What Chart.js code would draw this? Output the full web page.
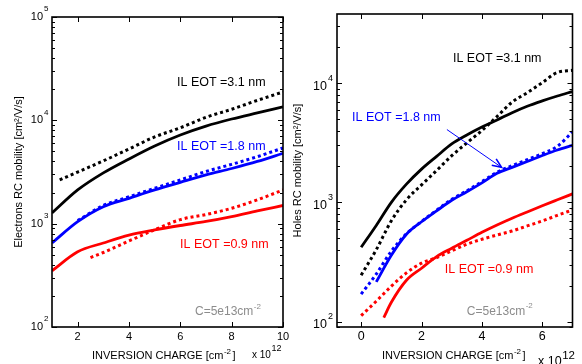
<!DOCTYPE html>
<html>
<head>
<meta charset="utf-8">
<script src="https://cdn.jsdelivr.net/npm/chart.js@4/dist/chart.umd.min.js"></script>
<style>
  html, body { margin: 0; padding: 0; background: #fff; }
  #wrap { position: relative; width: 582px; height: 364px; overflow: hidden; }
  canvas { position: absolute; top: 0; }
</style>
</head>
<body>
<div id="wrap">
  <canvas id="elec" width="291" height="364" style="left:0"></canvas>
  <canvas id="hole" width="291" height="364" style="left:291px"></canvas>
</div>
<script>
// inversion charge in units of 1e12 cm^-2, mobility in cm2/V/s

// electrons (left panel)
const elecX = [1, 2, 3, 4, 5, 6, 7, 8, 9, 10];
const elecBlack = [1270, 2120, 3100, 4230, 5650, 7220, 8800, 10300, 11800, 13500];
const elecBlue = [650, 1045, 1460, 1760, 2120, 2510, 2960, 3420, 4000, 4790];
const elecRed = [350, 535, 650, 775, 870, 960, 1050, 1170, 1330, 1500];
const elecBlackDotX = [1.3, 2, 3, 4, 5, 6, 7, 8, 9, 10];
const elecBlackDot = [2650, 3160, 4050, 5280, 6910, 8470, 10700, 12800, 15600, 18800];
const elecBlueDotX = [2, 3, 4, 5, 6, 7, 8, 9, 10];
const elecBlueDot = [1070, 1500, 1820, 2200, 2650, 3200, 3750, 4450, 5400];
const elecRedDotX = [2.5, 3, 4, 5, 6, 7, 8, 9, 10];
const elecRedDot = [470, 526, 680, 873, 1095, 1225, 1410, 1700, 2120];

// holes (right panel)
const holeX = [0, 0.5, 1, 1.5, 2, 2.5, 3, 3.5, 4, 4.5, 5, 5.5, 6, 6.5, 7];
const holeBlack = [420, 640, 1000, 1420, 1900, 2430, 3090, 3670, 4280, 4900, 5650, 6400, 7100, 7800, 8500];
const holeBlackDot = [245, 400, 700, 1050, 1400, 1850, 2460, 3150, 4010, 5250, 6930, 8300, 10100, 12300, 12800];
const holeBlue = [null, 215, 360, 540, 687, 849, 1040, 1225, 1456, 1750, 1965, 2200, 2470, 2750, 3000];
const holeBlueDot = [170, 250, 390, 545, 690, 860, 1060, 1250, 1490, 1790, 2030, 2280, 2560, 2950, 3900];
const holeRedX = [0.75, 1, 1.5, 2, 2.5, 3, 3.5, 4, 4.5, 5, 5.5, 6, 6.5, 7];
const holeRed = [108, 145, 222, 280, 350, 412, 480, 560, 645, 735, 830, 935, 1050, 1178];
const holeRedDot = [112, 148, 198, 256, 309, 344, 391, 445, 490, 532, 575, 634, 698, 778, 863];

const elecXTicks = [2, 4, 6, 8, 10];
const holeXTicks = [0, 2, 4, 6];

const FONT = '"Liberation Sans", Arial, sans-serif';
const BLACK = '#000000', BLUE = '#0000ff', RED = '#ff0000', GREY = '#8c8c8c';

function series(xs, ys, color, dotted) {
  const pts = [];
  xs.forEach((x, i) => { if (ys[i] != null) pts.push({ x: x, y: ys[i] }); });
  return {
    data: pts,
    borderColor: color,
    borderWidth: dotted ? 3 : 2.8,
    borderDash: dotted ? [3, 3] : [],
    borderCapStyle: 'butt',
    pointRadius: 0,
    cubicInterpolationMode: 'monotone',
    fill: false
  };
}

function supText(ctx, base, sup, x, y, size, supSize, rise, align) {
  ctx.font = size + 'px ' + FONT;
  const wb = ctx.measureText(base).width;
  ctx.font = supSize + 'px ' + FONT;
  const ws = ctx.measureText(sup).width;
  let x0 = x;
  if (align === 'center') x0 = x - (wb + ws) / 2;
  if (align === 'right') x0 = x - (wb + ws);
  ctx.textAlign = 'left';
  ctx.textBaseline = 'middle';
  ctx.font = size + 'px ' + FONT;
  ctx.fillText(base, x0, y);
  ctx.font = supSize + 'px ' + FONT;
  ctx.fillText(sup, x0 + wb + 0.5, y - rise);
}

function decorate(chart, d) {
  const ctx = chart.ctx;
  const a = chart.chartArea;
  const xs = chart.scales.x, ys = chart.scales.y;
  ctx.save();
  ctx.fillStyle = BLACK;
  ctx.strokeStyle = BLACK;

  // minor + major ticks on log axis (both sides, inward)
  ctx.lineWidth = 1;
  for (let e = 1; e <= 5; e++) {
    for (let m = 1; m <= 9; m++) {
      const v = m * Math.pow(10, e);
      if (v < ys.min || v > ys.max) continue;
      const py = Math.round(ys.getPixelForValue(v)) + 0.5;
      const len = m === 1 ? 5 : 3;
      ctx.beginPath();
      ctx.moveTo(a.left, py); ctx.lineTo(a.left + len, py);
      ctx.moveTo(a.right, py); ctx.lineTo(a.right - len, py);
      ctx.stroke();
    }
  }
  d.xTicks.forEach(v => {
    const px = Math.round(xs.getPixelForValue(v)) + 0.5;
    ctx.beginPath();
    ctx.moveTo(px, a.bottom); ctx.lineTo(px, a.bottom - 5);
    ctx.moveTo(px, a.top); ctx.lineTo(px, a.top + 5);
    ctx.stroke();
  });

  // box
  ctx.lineWidth = 1.6;
  ctx.strokeRect(a.left, a.top, a.right - a.left, a.bottom - a.top);

  // tick labels
  ctx.font = d.tickSize + 'px ' + FONT;
  ctx.textAlign = 'center';
  ctx.textBaseline = 'middle';
  d.xTicks.forEach(v => ctx.fillText(String(v), xs.getPixelForValue(v), a.bottom + 10));
  d.yExps.forEach(e => {
    const py = ys.getPixelForValue(Math.pow(10, e));
    ctx.font = d.yTickSize + 'px ' + FONT;
    ctx.textAlign = 'right';
    ctx.fillText('10', a.left - d.yTickGap, py + d.yTickDy);
    ctx.font = d.yTickSup + 'px ' + FONT;
    ctx.textAlign = 'left';
    ctx.fillText(String(e), a.left - d.yTickGap + 1, py + d.yTickDy - 8);
  });

  // axis titles
  supText(ctx, 'INVERSION CHARGE [cm', '-2', d.xTitleX, 356, 11, 8, 4, 'left');
  ctx.font = '11px ' + FONT;
  const w = ctx.measureText('INVERSION CHARGE [cm').width;
  ctx.font = '8px ' + FONT;
  const w2 = ctx.measureText('-2').width;
  ctx.font = '11px ' + FONT;
  ctx.textAlign = 'left';
  ctx.fillText(']', d.xTitleX + w + w2 + 2, 356);
  supText(ctx, 'x 10', '12', d.expX, d.expY, d.expSize, d.expSize - 1, 6, 'left');

  ctx.save();
  ctx.translate(d.yTitleX, (a.top + a.bottom) / 2);
  ctx.rotate(-Math.PI / 2);
  ctx.font = '11px ' + FONT;
  ctx.textAlign = 'center';
  ctx.textBaseline = 'middle';
  ctx.fillText(d.yTitle, 0, 0);
  ctx.restore();

  // curve labels, placed in data coordinates
  d.notes.forEach(n => {
    ctx.fillStyle = n.color;
    const px = xs.getPixelForValue(n.x), py = ys.getPixelForValue(n.y);
    if (n.sup) {
      supText(ctx, n.text, n.sup, px, py, d.noteSize - 0.5, 8, 5, 'left');
    } else {
      ctx.font = d.noteSize + 'px ' + FONT;
      ctx.textAlign = 'left';
      ctx.textBaseline = 'middle';
      ctx.fillText(n.text, px, py);
    }
  });

  // arrow
  if (d.arrow) {
    const r = d.arrow;
    const x0 = xs.getPixelForValue(r.x0), y0 = ys.getPixelForValue(r.y0);
    const x1 = xs.getPixelForValue(r.x1), y1 = ys.getPixelForValue(r.y1);
    const ang = Math.atan2(y1 - y0, x1 - x0);
    ctx.strokeStyle = r.color;
    ctx.fillStyle = r.color;
    ctx.lineWidth = 1;
    ctx.beginPath(); ctx.moveTo(x0, y0); ctx.lineTo(x1, y1); ctx.stroke();
    ctx.lineWidth = 1.6;
    ctx.beginPath();
    ctx.moveTo(x1 - 10 * Math.cos(ang - 0.4), y1 - 10 * Math.sin(ang - 0.4));
    ctx.lineTo(x1, y1);
    ctx.lineTo(x1 - 10 * Math.cos(ang + 0.4), y1 - 10 * Math.sin(ang + 0.4));
    ctx.stroke();
  }
  ctx.restore();
}

function makeChart(id, datasets, xMin, xMax, yMin, yMax, pad, deco) {
  return new Chart(document.getElementById(id), {
    type: 'line',
    data: { datasets: datasets },
    options: {
      responsive: false,
      animation: false,
      devicePixelRatio: 1,
      layout: { padding: pad },
      plugins: { legend: { display: false }, tooltip: { enabled: false } },
      scales: {
        x: { type: 'linear', min: xMin, max: xMax, display: false },
        y: { type: 'logarithmic', min: yMin, max: yMax, display: false }
      }
    },
    plugins: [{ id: 'deco', afterDraw: chart => decorate(chart, deco) }]
  });
}

makeChart('elec', [
  series(elecBlackDotX, elecBlackDot, BLACK, true),
  series(elecX, elecBlack, BLACK, false),
  series(elecBlueDotX, elecBlueDot, BLUE, true),
  series(elecX, elecBlue, BLUE, false),
  series(elecRedDotX, elecRedDot, RED, true),
  series(elecX, elecRed, RED, false)
], 1, 10, 100, 100000, { left: 52, right: 8, top: 17, bottom: 37 }, {
  xTicks: elecXTicks, yExps: [2, 3, 4, 5],
  tickSize: 11, yTickSize: 11, yTickSup: 8, yTickGap: 9, yTickDy: 0,
  xTitleX: 92, expX: 252, expY: 355, expSize: 10,
  yTitleX: 19, yTitle: 'Electrons RC mobility [cm\u00b2/V/s]',
  noteSize: 12.5,
  notes: [
    { text: 'IL EOT =3.1 nm', x: 5.87, y: 23000, color: BLACK },
    { text: 'IL EOT =1.8 nm', x: 5.87, y: 5520, color: BLUE },
    { text: 'IL EOT =0.9 nm', x: 5.99, y: 622, color: RED },
    { text: 'C=5e13cm', sup: '-2', x: 6.57, y: 140, color: GREY }
  ]
});

makeChart('hole', [
  series(holeX, holeBlackDot, BLACK, true),
  series(holeX, holeBlack, BLACK, false),
  series(holeX, holeBlueDot, BLUE, true),
  series(holeX, holeBlue, BLUE, false),
  series(holeX, holeRedDot, RED, true),
  series(holeRedX, holeRed, RED, false)
], -0.8, 7, 90, 38000, { left: 46, right: 9.5, top: 14, bottom: 37 }, {
  xTicks: holeXTicks, yExps: [2, 3, 4],
  tickSize: 12.5, yTickSize: 12.5, yTickSup: 9, yTickGap: 10, yTickDy: 3,
  xTitleX: 91, expX: 247, expY: 362, expSize: 12.5,
  yTitleX: 7, yTitle: 'Holes RC mobility [cm\u00b2/V/s]',
  noteSize: 12.5,
  notes: [
    { text: 'IL EOT =3.1 nm', x: 3.04, y: 16000, color: BLACK },
    { text: 'IL EOT =1.8 nm', x: -0.30, y: 5140, color: BLUE },
    { text: 'IL EOT =0.9 nm', x: 2.77, y: 275, color: RED },
    { text: 'C=5e13cm', sup: '-2', x: 3.5, y: 122, color: GREY }
  ],
  arrow: { x0: 2.84, y0: 4080, x1: 4.65, y1: 1965, color: BLUE }
});
</script>
</body>
</html>
